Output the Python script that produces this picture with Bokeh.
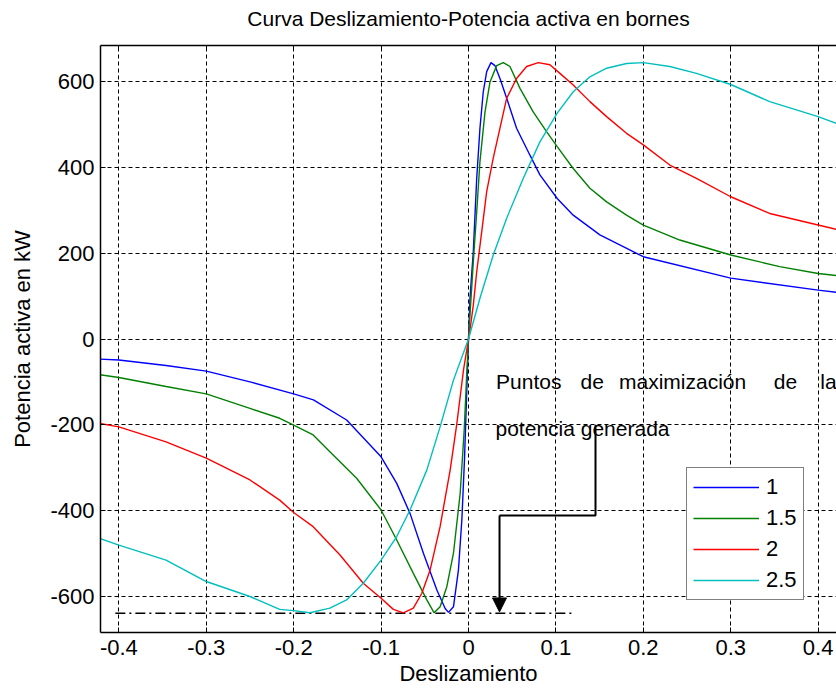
from bokeh.plotting import figure
from bokeh.models import (Range1d, FixedTicker, LinearAxis, Legend, LegendItem,
                          Arrow, NormalHead, Label, CustomLabelingPolicy)
from bokeh.embed import file_html
from bokeh.resources import INLINE

# ---------------- data ----------------
s_1 = [-0.4224, -0.4, -0.346, -0.3, -0.25, -0.2, -0.1774, -0.1394, -0.1, -0.0821,
       -0.0669, -0.0516, -0.0362, -0.0267, -0.0229, -0.0172, -0.0115, -0.0076,
       -0.0046, -0.0018, 0.0, 0.0017, 0.0055, 0.0094, 0.0131, 0.0169, 0.0208,
       0.0257, 0.0303, 0.036, 0.0437, 0.055, 0.0703, 0.0817, 0.1015, 0.1198,
       0.1503, 0.2, 0.3, 0.4, 0.421]
p_1 = [-47, -49, -62, -75, -100, -128, -142, -189, -275, -337,
       -407, -500, -586, -629, -638, -625, -539, -422,
       -282, -111, 0, 95, 204, 375, 492, 577, 624,
       645, 638, 608, 562, 492, 429, 383, 328, 289,
       243, 192, 142, 114, 109]

s_15 = [-0.4224, -0.4, -0.346, -0.3, -0.25, -0.216, -0.2, -0.1777, -0.1586, -0.128,
        -0.1, -0.0821, -0.0631, -0.0477, -0.0393, -0.0325, -0.0248, -0.0172,
        -0.0095, -0.0049, -0.0018, 0.0, 0.0015, 0.0055, 0.0094, 0.0131, 0.0189,
        0.0246, 0.0322, 0.0398, 0.0474, 0.0589, 0.074, 0.0893, 0.1015, 0.1198,
        0.1389, 0.158, 0.1808, 0.2, 0.2417, 0.3, 0.356, 0.4, 0.421]
p_15 = [-83, -90, -111, -128, -162, -185, -201, -224, -263, -325,
        -399, -469, -547, -609, -639, -625, -578, -500,
        -360, -212, -72, 0, 50, 180, 297, 414, 530,
        600, 638, 645, 636, 585, 530, 484, 449, 398,
        352, 320, 289, 266, 231, 196, 169, 153, 148]

s_2 = [-0.4224, -0.4, -0.346, -0.3, -0.25, -0.216, -0.2, -0.1777, -0.147, -0.1204,
       -0.1, -0.086, -0.0745, -0.0631, -0.0535, -0.0439, -0.0325, -0.021, -0.0133,
       -0.0057, 0.0, 0.0017, 0.0055, 0.0094, 0.0151, 0.0208, 0.0283, 0.036, 0.0437,
       0.055, 0.0665, 0.0798, 0.0931, 0.1046, 0.1198, 0.1389, 0.158, 0.1808, 0.2,
       0.2303, 0.2608, 0.3, 0.3446, 0.4, 0.421]
p_2 = [-197, -205, -240, -278, -329, -376, -405, -438, -504, -570,
       -605, -631, -639, -628, -594, -539, -438, -306, -197,
       -72, 0, 21, 79, 157, 250, 344, 422, 492, 562,
       608, 636, 645, 640, 620, 593, 554, 519, 480, 453,
       406, 375, 332, 293, 266, 256]

s_25 = [-0.4224, -0.4, -0.346, -0.3, -0.25, -0.216, -0.2, -0.1815, -0.1586, -0.1394,
        -0.1204, -0.1, -0.0821, -0.0669, -0.0477, -0.0325, -0.0172, 0.0, 0.0131,
        0.0283, 0.0437, 0.0627, 0.0817, 0.1015, 0.1198, 0.1389, 0.158, 0.1808,
        0.2, 0.2303, 0.2608, 0.3, 0.3446, 0.4, 0.421]
p_25 = [-465, -481, -516, -566, -601, -631, -634, -639, -628, -609,
        -570, -516, -461, -399, -306, -205, -96, 0, 95,
        196, 282, 375, 460, 527, 577, 612, 632, 643,
        645, 636, 620, 594, 554, 519, 503]

series_labels = ["1", "1.5", "2", "2.5"]
series_colors = ["#0000ff", "#008000", "#ff0000", "#00bfbf"]

x_ticks = [-0.4, -0.3, -0.2, -0.1, 0.0, 0.1, 0.2, 0.3, 0.4]
x_tick_labels = ["-0.4", "-0.3", "-0.2", "-0.1", "0", "0.1", "0.2", "0.3", "0.4"]
y_ticks = [-600, -400, -200, 0, 200, 400, 600]
y_tick_labels = ["-600", "-400", "-200", "0", "200", "400", "600"]

# peak-power reference line and annotation anchor points
peak_level = -640
peak_line_x = [-0.404, 0.118]
note_words = [("Puntos", 0.0315), ("de", 0.1281), ("maximización", 0.1722),
              ("de", 0.3493), ("la", 0.4024)]
note_line1_y = -100
note_line2 = ("potencia generada", 0.0309, -210)
arrow_path_x = [0.1453, 0.1453, 0.0355]
arrow_path_y = [-200, -412, -412]
arrow_tip = (0.0355, -412, -637)

FONT = "Liberation Sans"
FS = "22px"

p = figure(width=836, height=692,
           x_range=Range1d(-0.421, 0.421), y_range=Range1d(-685, 685),
           output_backend="svg", toolbar_location=None,
           min_border_left=100, min_border_right=0,
           min_border_top=45, min_border_bottom=60,
           background_fill_color="white", border_fill_color="white")

p.title.text = "Curva Deslizamiento-Potencia activa en bornes"
p.title.align = "center"
p.title.text_font = FONT
p.title.text_font_size = "21px"
p.title.text_font_style = "normal"
p.title.text_color = "black"
p.title.standoff = 9

xt = FixedTicker(ticks=x_ticks)
yt = FixedTicker(ticks=y_ticks)

for ax in (p.xaxis[0], p.yaxis[0]):
    ax.major_tick_in = 5
    ax.major_tick_out = 0
    ax.minor_tick_in = 0
    ax.minor_tick_out = 0
    ax.axis_line_width = 1.5
    ax.axis_line_color = "black"
    ax.major_tick_line_color = "black"
    ax.major_label_text_font = FONT
    ax.major_label_text_font_size = FS
    ax.major_label_text_color = "black"
    ax.axis_label_text_font = FONT
    ax.axis_label_text_font_size = FS
    ax.axis_label_text_font_style = "normal"
    ax.axis_label_text_color = "black"

p.xaxis.ticker = xt
p.yaxis.ticker = yt
p.xaxis.major_label_overrides = dict(zip(x_ticks, x_tick_labels))
p.yaxis.major_label_overrides = dict(zip(y_ticks, y_tick_labels))
p.xaxis.axis_label = "Deslizamiento"
p.yaxis.axis_label = "Potencia activa en kW"
p.xaxis.major_label_standoff = 7
p.xaxis.axis_label_standoff = 3
p.yaxis.major_label_standoff = 6
p.yaxis.axis_label_standoff = 12

# top border with inward ticks, no labels
top_axis = LinearAxis(ticker=xt, major_tick_in=5, major_tick_out=0,
                      minor_tick_in=0, minor_tick_out=0, major_label_standoff=0,
                      axis_line_width=1.5, axis_line_color="black",
                      major_label_policy=CustomLabelingPolicy(
                          code="for (const i of Array.from(indices)) { indices.unset(i) }\nreturn indices"))
p.add_layout(top_axis, "above")

p.xgrid.ticker = xt
p.ygrid.ticker = yt
for g in (p.xgrid[0], p.ygrid[0]):
    g.grid_line_color = "black"
    g.grid_line_dash = "4 3"
    g.grid_line_width = 1

p.outline_line_color = None

# reference line at the peak generated power
p.line(peak_line_x, [peak_level, peak_level], line_color="black",
       line_width=1.5, line_dash="10 4 2 4")

renderers = []
for sx, py, c in zip([s_1, s_15, s_2, s_25], [p_1, p_15, p_2, p_25], series_colors):
    r = p.line(sx, py, line_color=c, line_width=1.4)
    renderers.append(r)

# annotation
for word, wx in note_words:
    p.add_layout(Label(x=wx, y=note_line1_y, text=word, text_font=FONT,
                       text_font_size="21px", text_color="black",
                       text_baseline="alphabetic"))
p.add_layout(Label(x=note_line2[1], y=note_line2[2], text=note_line2[0],
                   text_font=FONT, text_font_size="21px", text_color="black",
                   text_baseline="alphabetic"))
p.line(arrow_path_x, arrow_path_y, line_color="black", line_width=2)
p.add_layout(Arrow(x_start=arrow_tip[0], y_start=arrow_tip[1],
                   x_end=arrow_tip[0], y_end=arrow_tip[2], line_width=2,
                   line_color="black",
                   end=NormalHead(size=14, fill_color="black", line_color="black")))

legend = Legend(items=[LegendItem(label=l, renderers=[r])
                       for l, r in zip(series_labels, renderers)],
                location=(586, 32), orientation="vertical",
                padding=6, margin=0, spacing=5,
                glyph_width=66, glyph_height=24, label_height=24,
                label_width=1, label_standoff=7,
                label_text_font=FONT, label_text_font_size=FS,
                label_text_color="black",
                border_line_color="black", border_line_width=1.5,
                background_fill_color="white", background_fill_alpha=1.0)
p.add_layout(legend)

open("out.html", "w").write(file_html(p, INLINE))
